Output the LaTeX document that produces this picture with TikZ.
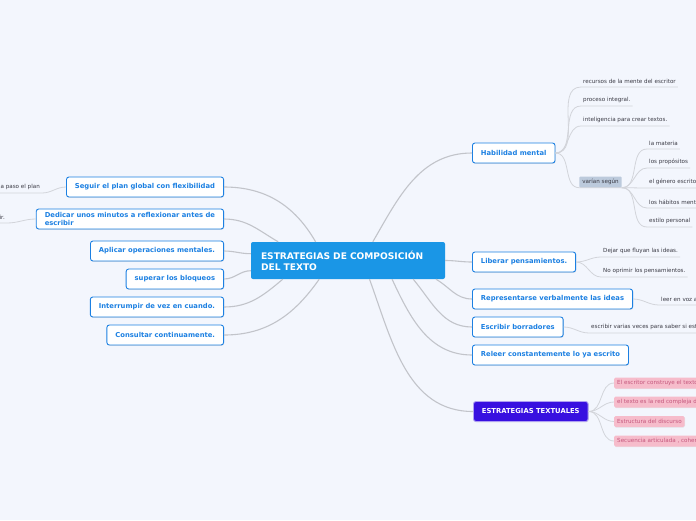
\documentclass[tikz,border=0pt]{standalone}
\usepackage{fontspec}
\setmainfont{DejaVu Sans}
\usetikzlibrary{shadows}
\definecolor{bgcol}{HTML}{F3F6FD}
\definecolor{mainblue}{HTML}{1A96E6}
\definecolor{topicblue}{HTML}{1C80E2}
\definecolor{linkgray}{HTML}{C2C4CA}
\definecolor{twiggray}{HTML}{D2D4DA}
\definecolor{purplebox}{HTML}{3810E0}
\definecolor{pinkfill}{HTML}{F6BCCB}
\definecolor{pinktext}{HTML}{C4567C}
\definecolor{graybox}{HTML}{BCCADC}
\definecolor{leaftext}{HTML}{3A3A44}

\begin{document}
\begin{tikzpicture}[x=1pt, y=-1pt,
	every node/.style={font=\fontsize{6}{7.5}\selectfont},
	central/.style={fill=mainblue, text=white, rounded corners=2pt, font=\fontsize{9.1}{11}\selectfont\bfseries, text width=174pt, align=left, inner xsep=10pt, minimum height=37pt},
	topic/.style={draw=topicblue, line width=0.9pt, fill=white, rounded corners=2.5pt, text=topicblue, font=\fontsize{6.8}{8.5}\selectfont\bfseries, inner xsep=8.5pt, inner ysep=2pt, minimum height=20pt, align=left, drop shadow={opacity=0.2, shadow xshift=0.6pt, shadow yshift=-0.8pt}},
	leaf/.style={text=leaftext, font=\fontsize{5.6}{6.5}\selectfont, inner xsep=2pt, inner ysep=3pt, anchor=south west},
	pinkbox/.style={fill=pinkfill, text=pinktext, rounded corners=1.5pt, font=\fontsize{5.6}{6.5}\selectfont, inner xsep=3pt, inner ysep=0pt, minimum height=11pt, anchor=west, drop shadow={opacity=0.12, shadow xshift=0.4pt, shadow yshift=-0.6pt}},
	link/.style={draw=linkgray, line width=1.1pt},
	twig/.style={draw=twiggray, line width=0.8pt}]
	\clip (0,0) rectangle (696,520);
	\fill[bgcol] (0,0) rectangle (696,520);
	\node[central] (c) at (348,260.5) {ESTRATEGIAS DE COMPOSICIÓN\\DEL TEXTO};
	% left side
	\foreach \n/\y/\a/\o/\t in {s1/187/150.7/120/Seguir el plan global con flexibilidad, s2/219/165.8/150/Dedicar unos minutos a reflexionar antes de\\escribir, s3/251/176.2/180/Aplicar operaciones mentales., s4/279/186.2/180/superar los bloqueos, s5/307/196.4/220/Interrumpir de vez en cuando., s6/335/213.5/235/Consultar continuamente.} {
		\node[topic, anchor=east] (\n) at (224,\y) {\t};
		\draw[link] (c.\a) to[out=\o, in=0] (\n.east);
	}
	\node[leaf, anchor=south east] (l1) at (42,193) {paso a paso el plan};
	\node[leaf, anchor=south east] (l2) at (7,223) {escribir.};
	\draw[twig] (l1.south west) -- (l1.south east) to[out=0, in=180] (s1.west);
	\draw[twig] (l2.south west) -- (l2.south east) to[out=0, in=180] (s2.west);
	% right side
	\foreach \n/\y/\a/\o/\t in {h/153/37.6/60/Habilidad mental, lib/262/0/0/Liberar pensamientos., rep/299/348.6/-30/Representarse verbalmente las ideas, esc/327/344.6/-50/Escribir borradores, rel/355/337.6/-65/Releer constantemente lo ya escrito} {
		\node[topic, anchor=west] (\n) at (472,\y) {\t};
		\draw[link] (c.\a) to[out=\o, in=180] (\n.west);
	}
	\node[topic, anchor=west, fill=purplebox, draw=purplebox!40!white, text=white] (et) at (473,411.5) {ESTRATEGIAS TEXTUALES};
	\draw[link] (c.319.9) to[out=-70, in=180] (et.west);
	% habilidad mental
	\foreach \n/\y/\t in {r1/87/recursos de la mente del escritor, r2/106/proceso integral., r3/126/inteligencia para crear textos.} {
		\node[leaf] (\n) at (581,\y) {\t};
		\draw[twig] (h.east) to[out=0, in=180] (\n.south west) -- (\n.south east);
	}
	\node[fill=graybox, text=leaftext, font=\fontsize{5.6}{6.5}\selectfont, rounded corners=1pt, inner xsep=3pt, inner ysep=0pt, minimum height=11pt] (vs) at (600.5,182) {varían según};
	\draw[twig] (h.east) to[out=0, in=180] (vs.south west) -- (vs.south east);
	\foreach \n/\y/\t in {v1/149/la materia, v2/168/los propósitos, v3/188/el género escrito, v4/208/los hábitos mentales, v5/227/estilo personal} {
		\node[leaf] (\n) at (647,\y) {\t};
		\draw[twig] (vs.south east) to[out=0, in=180] (\n.south west) -- (\n.south east);
	}
	% liberar, representarse, escribir
	\foreach \n/\y/\t in {b1/257/Dejar que fluyan las ideas., b2/277/No oprimir los pensamientos.} {
		\node[leaf] (\n) at (601,\y) {\t};
		\draw[twig] (lib.east) to[out=0, in=180] (\n.south west) -- (\n.south east);
	}
	\node[leaf] (d1) at (659,305) {leer en voz alta};
	\draw[twig] (rep.east) to[out=0, in=180] (d1.south west) -- (d1.south east);
	\node[leaf] (e1) at (589,333) {escribir varias veces para saber si está bien};
	\draw[twig] (esc.east) to[out=0, in=180] (e1.south west) -- (e1.south east);
	% estrategias textuales
	\foreach \n/\y/\t in {p1/383/El escritor construye el texto, p2/402/el texto es la red compleja de, p3/421.5/Estructura del discurso, p4/441/{Secuencia articulada , coherente}} {
		\node[pinkbox] (\n) at (614,\y) {\t};
		\draw[twig] (et.east) to[out=0, in=180] (\n.west);
	}
\end{tikzpicture}
\end{document}
